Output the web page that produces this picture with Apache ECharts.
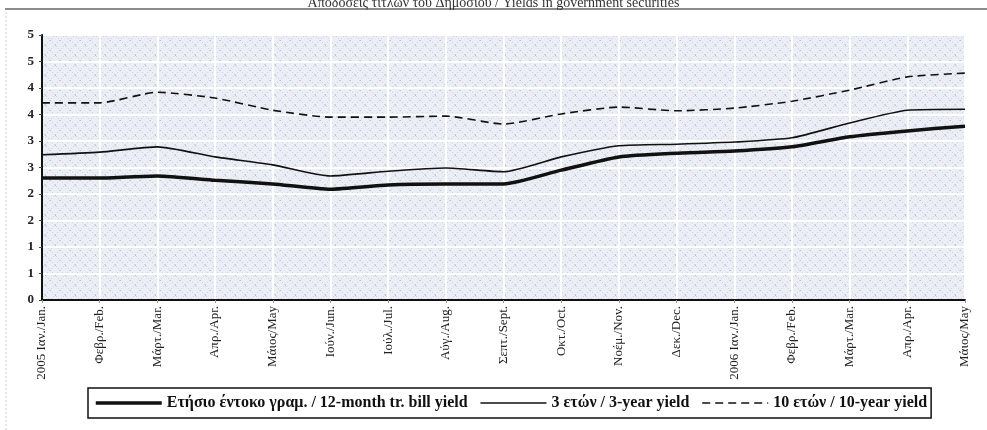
<!DOCTYPE html>
<html>
<head>
<meta charset="utf-8">
<script src="https://cdn.jsdelivr.net/npm/echarts@6/dist/echarts.min.js"></script>
<style>
  html, body { margin: 0; padding: 0; background: #ffffff; }
  #chart { width: 987px; height: 430px; }
</style>
</head>
<body>
<div id="chart"></div>
<script>
// Months, January 2005 – May 2006
const months = [
  '2005 Ιαν./Jan.', 'Φεβρ./Feb.', 'Μάρτ./Mar.', 'Απρ./Apr.', 'Μάιος/May',
  'Ιούν./Jun.', 'Ιούλ./Jul.', 'Αύγ./Aug.', 'Σεπτ./Sept.', 'Οκτ./Oct.',
  'Νοέμ./Nov.', 'Δεκ./Dec.', '2006 Ιαν./Jan.', 'Φεβρ./Feb.', 'Μάρτ./Mar.',
  'Απρ./Apr.', 'Μάιος/May'
];

// Yields, %
const billYield12m = [2.30, 2.30, 2.34, 2.26, 2.19, 2.09, 2.17, 2.19, 2.19, 2.45, 2.70, 2.77, 2.81, 2.89, 3.08, 3.19, 3.28];
const yield3y      = [2.74, 2.79, 2.89, 2.70, 2.55, 2.34, 2.43, 2.49, 2.42, 2.70, 2.91, 2.94, 2.98, 3.06, 3.34, 3.58, 3.60];
const yield10y     = [3.72, 3.72, 3.92, 3.81, 3.58, 3.45, 3.45, 3.47, 3.32, 3.51, 3.64, 3.57, 3.62, 3.75, 3.96, 4.21, 4.28];

// Y tick labels (0 to 5 in steps of 0.5, printed as whole numbers)
const yTickLabels = ['0', '1', '1', '2', '2', '3', '3', '4', '4', '5', '5'];

const seriesNames = [
  'Ετήσιο έντοκο γραμ. / 12-month tr. bill yield',
  '3 ετών / 3-year yield',
  '10 ετών / 10-year yield'
];

// Cross-hatched fill for the plotting area
function makeHatch() {
  const s = 10;
  const c = document.createElement('canvas');
  c.width = s; c.height = s;
  const g = c.getContext('2d');
  g.fillStyle = '#eceef5';
  g.fillRect(0, 0, s, s);
  for (let i = 0; i < s; i += 2) {
    g.fillStyle = '#cfd4e0';
    g.fillRect(i, i, 1, 1);
    g.fillRect(s - 1 - i, i, 1, 1);
  }
  g.fillStyle = '#b9c0d0';
  g.fillRect(0, 0, 1, 1);
  g.fillRect(5, 5, 1, 1);
  return c;
}

const serif = '"Liberation Serif", "DejaVu Serif", serif';
const lineWidths = [3.5, 1.6, 1.6];
const chart = echarts.init(document.getElementById('chart'), null, { renderer: 'canvas' });

chart.setOption({
  backgroundColor: '#ffffff',
  animation: false,
  title: {
    text: 'Αποδόσεις τίτλων του Δημοσίου / Yields in government securities',
    left: 'center',
    top: -9,
    textStyle: { fontFamily: serif, fontSize: 14, fontWeight: 'normal', color: '#333' }
  },
  graphic: [
    { type: 'line', shape: { x1: 5, y1: 9, x2: 987, y2: 9 }, style: { stroke: '#666', lineWidth: 1.5 } },
    { type: 'line', shape: { x1: 6, y1: 12, x2: 6, y2: 430 }, style: { stroke: '#cfcfcf', lineWidth: 1, lineDash: [2, 2] } }
  ],
  grid: {
    left: 42, right: 22, top: 35, bottom: 130,
    show: true,
    borderWidth: 0,
    backgroundColor: { image: makeHatch(), repeat: 'repeat' }
  },
  legend: {
    bottom: 12,
    left: 88,
    itemWidth: 66,
    itemHeight: 10,
    itemGap: 12,
    padding: [7, 4, 7, 6],
    borderColor: '#111',
    borderWidth: 1.5,
    itemStyle: { color: 'transparent', borderColor: 'transparent', borderWidth: 0 },
    textStyle: { fontFamily: serif, fontSize: 16, fontWeight: 'bold', color: '#111' },
    data: seriesNames.map(function (n, i) {
      return { name: n, lineStyle: { width: lineWidths[i] } };
    })
  },
  xAxis: {
    type: 'category',
    data: months,
    boundaryGap: false,
    axisLine: { lineStyle: { color: '#111', width: 2 } },
    axisTick: { show: true, length: 3, interval: 0, lineStyle: { color: '#999' } },
    splitLine: { show: true, interval: 0, lineStyle: { color: '#ffffff', width: 2 } },
    axisLabel: {
      interval: 0,
      rotate: 90,
      margin: 6,
      fontFamily: serif,
      fontSize: 13,
      color: '#222'
    }
  },
  yAxis: {
    type: 'value',
    min: 0,
    max: 5,
    interval: 0.5,
    axisLine: { show: true, lineStyle: { color: '#111', width: 2 } },
    axisTick: { show: true, length: 3, lineStyle: { color: '#444' } },
    splitLine: { show: true, lineStyle: { color: '#ffffff', width: 2 } },
    axisLabel: {
      margin: 8,
      fontFamily: serif,
      fontSize: 13,
      fontWeight: 'bold',
      color: '#222',
      formatter: function (v) { return yTickLabels[Math.round(v / 0.5)]; }
    }
  },
  series: [
    {
      name: seriesNames[0], type: 'line', data: billYield12m,
      symbol: 'none', smooth: 0.2,
      lineStyle: { color: '#111', width: lineWidths[0] },
      itemStyle: { color: '#111' }, z: 4
    },
    {
      name: seriesNames[1], type: 'line', data: yield3y,
      symbol: 'none', smooth: 0.2,
      lineStyle: { color: '#111', width: lineWidths[1] },
      itemStyle: { color: '#111' }, z: 3
    },
    {
      name: seriesNames[2], type: 'line', data: yield10y,
      symbol: 'none', smooth: 0.2,
      lineStyle: { color: '#111', width: lineWidths[2], type: [8, 5] },
      itemStyle: { color: '#111' }, z: 2
    }
  ]
});
</script>
</body>
</html>
